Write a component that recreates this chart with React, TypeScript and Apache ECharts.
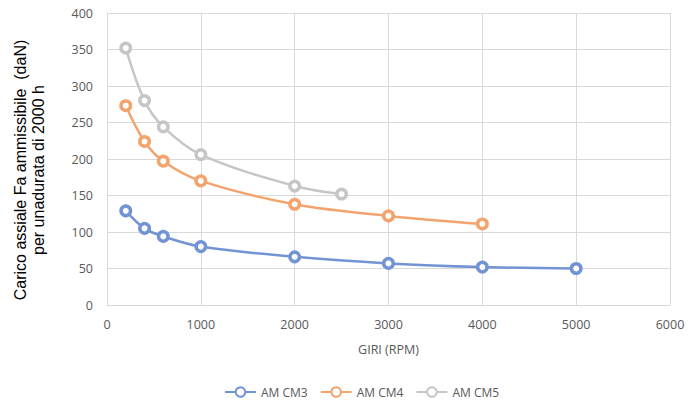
import React, { useEffect, useRef } from "react";
import * as echarts from "echarts";

const cm3Rpm = [200, 400, 600, 1000, 2000, 3000, 4000, 5000];
const cm3Load = [129, 105, 94, 80, 66, 57, 52, 50];
const cm4Rpm = [200, 400, 600, 1000, 2000, 3000, 4000];
const cm4Load = [273, 224, 197, 170, 138, 122, 111];
const cm5Rpm = [200, 400, 600, 1000, 2000, 2500];
const cm5Load = [352, 280, 244, 206, 163, 152];
const seriesNames = ["AM CM3", "AM CM4", "AM CM5"];
const colors = ["#7394D4", "#F3A46E", "#C6C6C6"];
const yTitleLines = ["Carico assiale Fa ammissibile  (daN)", "per unadurata di 2000 h"];

const zip = (xs: number[], ys: number[]) => xs.map((x, i) => [x, ys[i]]);

export default function App() {
  const ref = useRef<HTMLDivElement>(null);
  useEffect(() => {
    if (!ref.current) return;
    const chart = echarts.init(ref.current, null, { renderer: "svg" });
    const datasets = [zip(cm3Rpm, cm3Load), zip(cm4Rpm, cm4Load), zip(cm5Rpm, cm5Load)];
    const tickFont = { color: "#595959", fontSize: 12.5, fontFamily: "Open Sans" };
    chart.setOption({
      animation: false,
      backgroundColor: "#fff",
      grid: { left: 107, right: 18, top: 13, bottom: 98 },
      legend: {
        top: 381,
        left: 219,
        itemWidth: 31,
        itemHeight: 12,
        itemGap: 12,
        textStyle: { ...tickFont, fontSize: 12 },
        data: seriesNames,
      },
      graphic: [
        {
          type: "text",
          x: 20,
          y: 170,
          rotation: Math.PI / 2,
          style: {
            text: yTitleLines[0],
            fill: "#000",
            fontSize: 16,
            fontFamily: "Liberation Sans",
            align: "center",
            verticalAlign: "middle",
          },
        },
        {
          type: "text",
          x: 38,
          y: 170,
          rotation: Math.PI / 2,
          style: {
            text: yTitleLines[1],
            fill: "#000",
            fontSize: 16,
            fontFamily: "Liberation Sans",
            align: "center",
            verticalAlign: "middle",
          },
        },
      ],
      xAxis: {
        type: "value",
        min: 0,
        max: 6000,
        interval: 1000,
        name: "GIRI (RPM)",
        nameLocation: "middle",
        nameGap: 38,
        nameTextStyle: { ...tickFont },
        axisLine: { show: true, lineStyle: { color: "#d9d9d9" } },
        axisTick: { show: false },
        axisLabel: { ...tickFont, margin: 13, formatter: (v: number) => String(v) },
        splitLine: { show: true, lineStyle: { color: "#d9d9d9" } },
      },
      yAxis: {
        type: "value",
        min: 0,
        max: 400,
        interval: 50,
        axisLine: { show: true, lineStyle: { color: "#d9d9d9" } },
        axisTick: { show: false },
        axisLabel: { ...tickFont, margin: 14 },
        splitLine: { show: true, lineStyle: { color: "#d9d9d9" } },
      },
      series: seriesNames.map((name, i) => ({
        name,
        type: "line",
        smooth: 0.35,
        data: datasets[i],
        symbol: "circle",
        symbolSize: 9.5,
        showSymbol: true,
        lineStyle: { color: colors[i], width: 2.5 },
        itemStyle: { color: "#fff", borderColor: colors[i], borderWidth: 3.5 },
      })),
    });
    return () => chart.dispose();
  }, []);
  return <div ref={ref} style={{ width: 688, height: 403, position: "absolute", left: 0, top: 0 }} />;
}
